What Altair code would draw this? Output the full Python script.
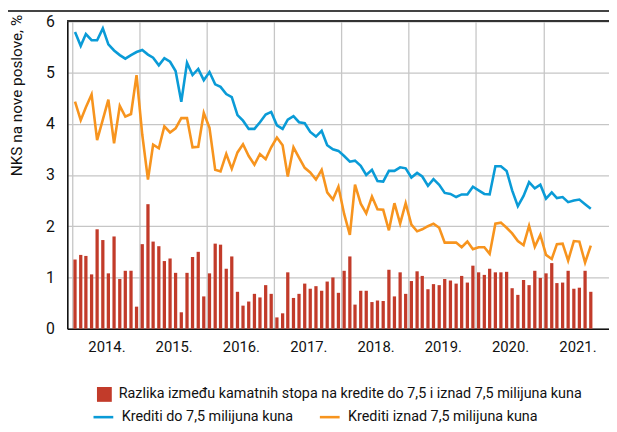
import altair as alt
import pandas as pd

razlika = [
    1.35, 1.44, 1.42, 1.06, 1.94, 1.73, 1.08, 1.80, 0.97, 1.13, 1.13, 0.43,
    1.65, 2.43, 1.70, 1.61, 1.32, 1.37, 1.09, 0.32, 1.09, 1.40, 1.50, 0.63,
    1.08, 1.66, 1.64, 1.17, 1.41, 0.72, 0.45, 0.53, 0.68, 0.61, 0.85, 0.68,
    0.22, 0.30, 1.10, 0.60, 0.68, 0.88, 0.78, 0.83, 0.74, 0.92, 1.00, 0.70,
    1.13, 1.41, 0.47, 0.74, 0.74, 0.52, 0.55, 0.54, 1.15, 0.63, 1.10, 0.68,
    0.93, 1.12, 1.03, 0.77, 0.87, 0.85, 0.97, 0.94, 0.88, 1.03, 0.90, 1.23,
    1.10, 1.05, 1.17, 1.10, 1.10, 1.11, 0.79, 0.66, 0.95, 0.85, 1.13, 0.99,
    1.08, 1.28, 0.89, 0.90, 1.13, 0.78, 0.80, 1.13, 0.72,
]
do_75 = [
    5.79, 5.52, 5.75, 5.63, 5.63, 5.86, 5.55, 5.43, 5.34, 5.27, 5.34, 5.40,
    5.44, 5.35, 5.29, 5.14, 5.28, 5.21, 5.03, 4.43, 5.19, 4.95, 5.07, 4.85,
    5.01, 4.77, 4.72, 4.58, 4.52, 4.17, 4.06, 3.90, 3.90, 4.03, 4.18, 4.23,
    3.97, 3.90, 4.08, 4.15, 4.03, 4.01, 3.84, 3.75, 3.86, 3.58, 3.50, 3.47,
    3.37, 3.26, 3.28, 3.18, 3.00, 3.10, 2.88, 2.87, 3.08, 3.08, 3.15, 3.13,
    2.95, 3.04, 2.97, 2.79, 2.92, 2.81, 2.65, 2.63, 2.57, 2.62, 2.62, 2.77,
    2.70, 2.63, 2.62, 3.17, 3.17, 3.08, 2.70, 2.39, 2.59, 2.86, 2.74, 2.81,
    2.54, 2.66, 2.55, 2.57, 2.47, 2.50, 2.52, 2.43, 2.34,
]
iznad_75 = [
    4.43, 4.07, 4.32, 4.57, 3.68, 4.08, 4.47, 3.62, 4.35, 4.14, 4.19, 4.95,
    3.79, 2.91, 3.59, 3.52, 3.95, 3.83, 3.91, 4.11, 4.11, 3.54, 3.55, 4.21,
    3.92, 3.10, 3.07, 3.41, 3.12, 3.44, 3.60, 3.37, 3.20, 3.41, 3.31, 3.54,
    3.73, 3.58, 2.97, 3.54, 3.34, 3.14, 3.05, 2.91, 3.10, 2.66, 2.52, 2.77,
    2.24, 1.83, 2.81, 2.44, 2.25, 2.58, 2.33, 2.32, 1.92, 2.45, 2.05, 2.45,
    2.03, 1.90, 1.94, 2.00, 2.05, 1.97, 1.68, 1.68, 1.68, 1.59, 1.70, 1.55,
    1.59, 1.59, 1.46, 2.05, 2.07, 1.97, 1.86, 1.71, 1.63, 2.01, 1.60, 1.83,
    1.44, 1.36, 1.65, 1.66, 1.33, 1.71, 1.70, 1.29, 1.62,
]

series_bar = "Razlika između kamatnih stopa na kredite do 7,5 i iznad 7,5 milijuna kuna"
series_do = "Krediti do 7,5 milijuna kuna"
series_iznad = "Krediti iznad 7,5 milijuna kuna"

months = pd.date_range("2014-01-01", periods=len(razlika), freq="MS") + pd.Timedelta(days=15)
dates = [d.strftime("%Y-%m-%dT%H:%M:%S") for d in months]

bars_df = pd.DataFrame({"date": dates, "value": razlika, "series": series_bar})
lines_df = pd.concat([
    pd.DataFrame({"date": dates, "value": do_75, "series": series_do}),
    pd.DataFrame({"date": dates, "value": iznad_75, "series": series_iznad}),
])

FONT = "Roboto, Liberation Sans, sans-serif"
W, H = 548, 311

x_scale = alt.Scale(domain=[alt.DateTime(year=2014, month=1, date=1),
                            alt.DateTime(year=2021, month=11, date=27)])
y_scale = alt.Scale(domain=[0, 6], nice=False)

x_axis = alt.Axis(
    values=[alt.DateTime(year=y, month=1, date=1) for y in range(2014, 2022)],
    format="%Y.", labelOffset=34.6, ticks=False, labelPadding=11,
    grid=True, gridColor="#c6c6c6", gridWidth=1.3,
    domainColor="#111111", domainWidth=1.6,
    labelFont=FONT, labelFontSize=15, labelColor="#111111", title=None,
)
y_axis = alt.Axis(
    values=[0, 1, 2, 3, 4, 5, 6], ticks=False, labelPadding=13,
    grid=True, gridColor="#c6c6c6", gridWidth=1.3,
    domainColor="#111111", domainWidth=1.6,
    labelFont=FONT, labelFontSize=16, labelColor="#111111",
    title="NKS na nove poslove, %", titleFont=FONT, titleFontSize=15.5,
    titleFontWeight="normal", titleColor="#111111",
    titleAngle=270, titleX=-51, titleY=-7, titleAlign="right", titleBaseline="middle",
)

bars = alt.Chart(bars_df).mark_bar(size=3.3).encode(
    x=alt.X("date:T", scale=x_scale, axis=x_axis),
    y=alt.Y("value:Q", scale=y_scale, axis=y_axis),
    color=alt.Color("series:N",
                    scale=alt.Scale(domain=[series_bar], range=["#c23b2a"]),
                    legend=alt.Legend(orient="none", legendX=30, legendY=370, title=None,
                                      symbolType="square", symbolSize=225,
                                      symbolStrokeWidth=0, labelOffset=7, padding=0,
                                      labelFont=FONT, labelFontSize=14.5,
                                      labelColor="#111111", labelLimit=600)),
)

lines = alt.Chart(lines_df).mark_line(strokeWidth=2.6).encode(
    x=alt.X("date:T", scale=x_scale),
    y=alt.Y("value:Q", scale=y_scale),
    stroke=alt.Stroke("series:N",
                      scale=alt.Scale(domain=[series_do, series_iznad],
                                      range=["#0a9bd7", "#f7941e"]),
                      legend=alt.Legend(orient="none", legendX=25, legendY=389, title=None,
                                        direction="horizontal", columns=2,
                                        columnPadding=21,
                                        symbolType="stroke", symbolSize=400,
                                        symbolStrokeWidth=2.6, labelOffset=7, padding=0,
                                        labelFont=FONT, labelFontSize=14.5,
                                        labelColor="#111111", labelLimit=600)),
    detail="series:N",
)

top_rule = alt.Chart(bars_df).mark_rule(color="#333333", strokeWidth=1.5).encode(
    x=alt.value(0), x2=alt.value(W), y=alt.value(0)
)
outer_rule = alt.Chart(bars_df).mark_rule(color="#444444", strokeWidth=1.5).encode(
    x=alt.value(-60), x2=alt.value(W + 2), y=alt.value(-10)
)

chart = alt.layer(bars, lines, top_rule, outer_rule).properties(
    width=W, height=H,
    autosize=alt.AutoSizeParams(type="none"),
    padding={"left": 60, "top": 11, "right": 0, "bottom": 94},
).configure_view(stroke=None).configure(background="white")

chart.save("out.html", embed_options={"renderer": "svg", "actions": False})
